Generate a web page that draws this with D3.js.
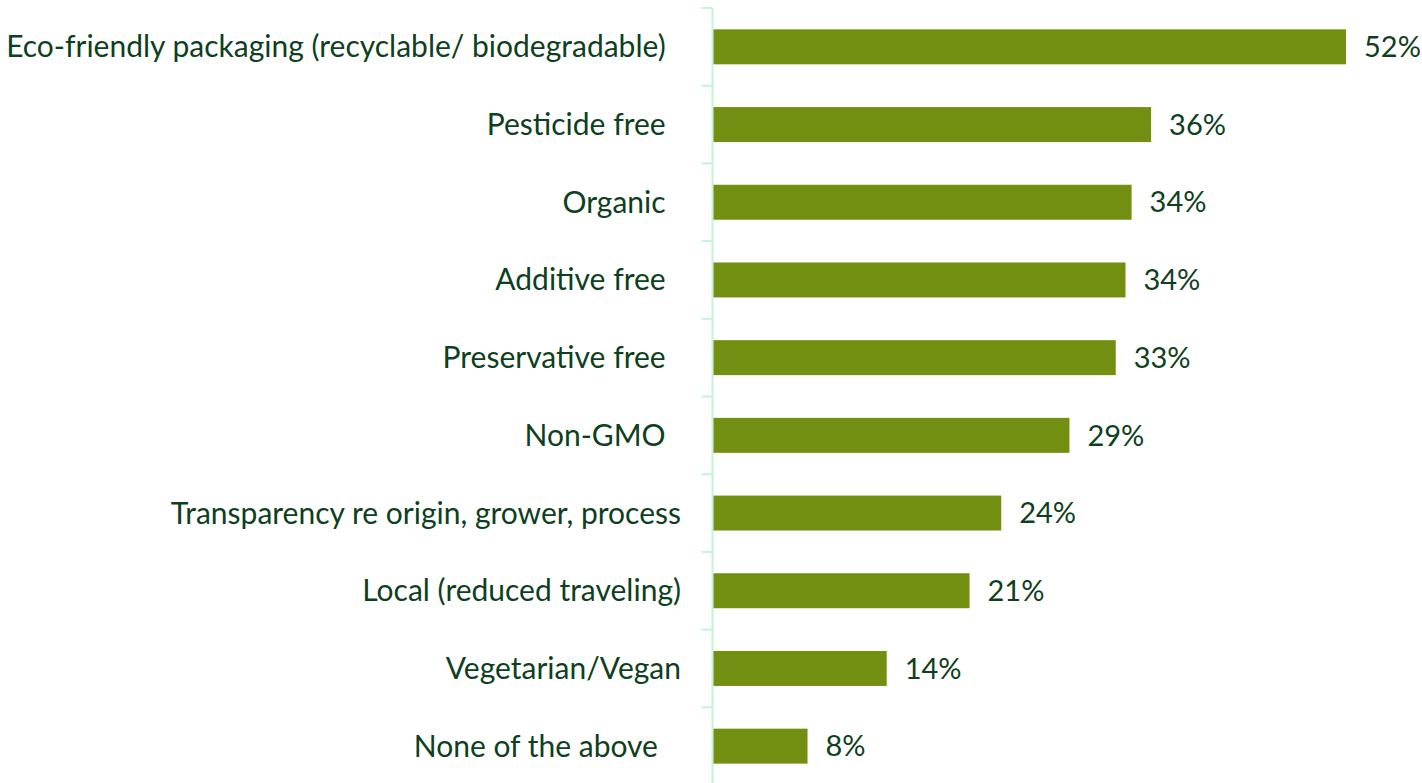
<!DOCTYPE html>
<html>
<head>
<meta charset="utf-8">
<script src="https://cdn.jsdelivr.net/npm/d3@7"></script>
<style>
  html, body { margin: 0; padding: 0; background: #ffffff; }
  svg { display: block; }
  text { font-family: "Lato", "Open Sans", sans-serif; fill: #0e3f20; white-space: pre; }
</style>
</head>
<body>
<svg id="chart" width="1422" height="783"></svg>
<script>
// Share of respondents choosing each attribute (labels keep their trailing padding)
const categories = [
  "Eco-friendly packaging (recyclable/ biodegradable)\u00a0\u00a0",
  "Pesticide free\u00a0\u00a0",
  "Organic\u00a0\u00a0",
  "Additive free\u00a0\u00a0",
  "Preservative free\u00a0\u00a0",
  "Non-GMO\u00a0\u00a0",
  "Transparency re origin, grower, process",
  "Local (reduced traveling)",
  "Vegetarian/Vegan",
  "None of the above\u00a0\u00a0\u00a0"
];
const values = [52.0, 36.0, 34.4, 33.9, 33.1, 29.3, 23.7, 21.1, 14.3, 7.8];

const svg = d3.select("#chart");
const axisX = 712.5;

const x = d3.scaleLinear().domain([0, 52]).range([axisX, 1346]);
const y = d3.scaleBand().domain(categories).range([8, 785]).paddingInner(0.55).paddingOuter(0.275);

// category axis on the left with outward ticks at band boundaries
const boundaries = d3.range(categories.length + 1).map(i => 8 + i * y.step());
svg.append("line")
  .attr("x1", axisX).attr("x2", axisX)
  .attr("y1", 8).attr("y2", 785)
  .attr("stroke", "#c3f4d9").attr("stroke-width", 2);
svg.selectAll("line.tick").data(boundaries).join("line")
  .attr("class", "tick")
  .attr("x1", axisX - 11).attr("x2", axisX)
  .attr("y1", d => d).attr("y2", d => d)
  .attr("stroke", "#c3f4d9").attr("stroke-width", 2);

// bars
svg.selectAll("rect.bar").data(categories).join("rect")
  .attr("class", "bar")
  .attr("x", axisX + 1)
  .attr("y", d => y(d))
  .attr("width", (d, i) => x(values[i]) - axisX - 1)
  .attr("height", y.bandwidth())
  .attr("fill", "#738f12");

// category labels
svg.selectAll("text.cat").data(categories).join("text")
  .attr("class", "cat")
  .attr("x", 681)
  .attr("y", d => y(d) + y.bandwidth() / 2)
  .attr("dy", "0.35em")
  .attr("text-anchor", "end")
  .attr("font-size", 30)
  .text(d => d);

// value labels
svg.selectAll("text.val").data(categories).join("text")
  .attr("class", "val")
  .attr("x", (d, i) => x(values[i]) + 18)
  .attr("y", d => y(d) + y.bandwidth() / 2)
  .attr("dy", "0.35em")
  .attr("font-size", 29)
  .text((d, i) => d3.format(".0f")(values[i]) + "%");
</script>
</body>
</html>
